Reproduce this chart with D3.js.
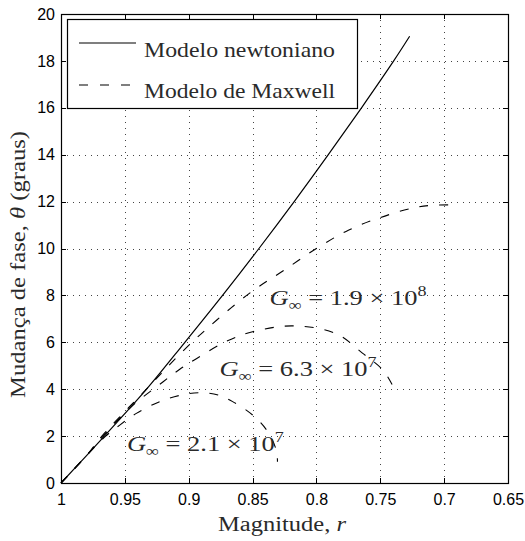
<!DOCTYPE html>
<html><head><meta charset="utf-8">
<script src="https://cdn.jsdelivr.net/npm/d3@7"></script>
<style>body{margin:0;background:#fff}svg{display:block}</style>
</head><body><svg id="c" width="525" height="541"></svg>
<script>
// ---- data ----
const xTickValues = [1, 0.95, 0.9, 0.85, 0.8, 0.75, 0.7, 0.65];
const xTickLabels = ["1", "0.95", "0.9", "0.85", "0.8", "0.75", "0.7", "0.65"];
const yTickValues = [0, 2, 4, 6, 8, 10, 12, 14, 16, 18, 20];
const yTickLabels = ["0", "2", "4", "6", "8", "10", "12", "14", "16", "18", "20"];

const newtonR     = [1, 0.98, 0.966, 0.933, 0.903, 0.8735, 0.845, 0.8174, 0.7907, 0.7647, 0.7395, 0.727];
const newtonTheta = [0, 1.17, 2, 4, 6, 8, 10, 12, 14, 16, 18, 19.05];

const maxA_R     = [1, 0.98, 0.968, 0.934, 0.902, 0.878, 0.851, 0.826, 0.8, 0.775, 0.75, 0.725, 0.71, 0.696];
const maxA_Theta = [0, 1.17, 2, 3.95, 5.76, 6.95, 8.15, 9.05, 10.0, 10.78, 11.32, 11.72, 11.84, 11.86];

const maxB_R     = [1, 0.98, 0.967, 0.945, 0.92, 0.907, 0.894, 0.871, 0.85, 0.8185, 0.785, 0.764, 0.748, 0.7406];
const maxB_Theta = [0, 1.17, 2.0, 3.25, 4.32, 4.85, 5.3, 6.03, 6.45, 6.7, 6.38, 5.54, 4.82, 4.18];

const maxC_R     = [1, 0.98, 0.965, 0.954, 0.941, 0.9227, 0.905, 0.891, 0.877, 0.8656, 0.85, 0.839, 0.8315, 0.8305];
const maxC_Theta = [0, 1.17, 2.0, 2.47, 2.97, 3.47, 3.76, 3.85, 3.75, 3.47, 2.9, 2.26, 1.41, 0.91];

const legendLabels = ["Modelo newtoniano", "Modelo de Maxwell"];
const annoMant = ["1.9", "6.3", "2.1"];
const annoExp  = ["8", "7", "7"];
const annoR     = [0.8367, 0.8758, 0.9484];
const annoTheta = [7.59, 4.56, 1.36];

// ---- layout ----
const svg = d3.select("#c");
const L = 61, R = 508, T = 14, B = 483;
const x = d3.scaleLinear().domain([1, 0.65]).range([L, R]);
const y = d3.scaleLinear().domain([0, 20]).range([B, T]);
const serif = "'Liberation Serif', 'Times New Roman', serif";
const sans = "'Liberation Sans', Arial, sans-serif";

// grid
const grid = svg.append("g").attr("stroke", "#444").attr("stroke-width", 1)
  .attr("stroke-dasharray", "1,5").attr("shape-rendering", "crispEdges");
grid.selectAll(".gx").data(xTickValues.slice(1, -1)).join("line")
  .attr("x1", d => Math.round(x(d)) + 0.5).attr("x2", d => Math.round(x(d)) + 0.5)
  .attr("y1", T).attr("y2", B);
grid.selectAll(".gy").data(yTickValues.slice(1, -1)).join("line")
  .attr("y1", d => Math.round(y(d)) + 0.5).attr("y2", d => Math.round(y(d)) + 0.5)
  .attr("x1", L).attr("x2", R);

// axes
function styleAxis(g) {
  g.select(".domain").remove();
  g.selectAll("line").attr("stroke", "#000").attr("shape-rendering", "crispEdges");
  g.selectAll("text").attr("font-family", sans).attr("font-size", 16).attr("fill", "#000");
}
svg.append("g").attr("transform", `translate(0,${B})`)
  .call(d3.axisBottom(x).tickValues(xTickValues).tickFormat((d, i) => xTickLabels[i]).tickSize(-5).tickPadding(11))
  .call(styleAxis);
svg.append("g").attr("transform", `translate(0,${T})`)
  .call(d3.axisTop(x).tickValues(xTickValues).tickFormat("").tickSize(-5))
  .call(styleAxis);
svg.append("g").attr("transform", `translate(${L},0)`)
  .call(d3.axisLeft(y).tickValues(yTickValues).tickFormat((d, i) => yTickLabels[i]).tickSize(-5).tickPadding(6))
  .call(styleAxis);
svg.append("g").attr("transform", `translate(${R},0)`)
  .call(d3.axisRight(y).tickValues(yTickValues).tickFormat("").tickSize(-5))
  .call(styleAxis);

svg.append("rect").attr("x", L + 0.5).attr("y", T + 0.5).attr("width", R - L).attr("height", B - T)
  .attr("fill", "none").attr("stroke", "#000").attr("stroke-width", 1.2);

// curves
const line = d3.line().x(d => x(d[0])).y(d => y(d[1])).curve(d3.curveCatmullRom.alpha(0.5));
const zip = (a, b) => a.map((v, i) => [v, b[i]]);
const curves = svg.append("g").attr("fill", "none").attr("stroke", "#000");
curves.append("path").attr("d", line(zip(newtonR, newtonTheta))).attr("stroke-width", 1.2);
[[maxA_R, maxA_Theta], [maxB_R, maxB_Theta], [maxC_R, maxC_Theta]].forEach(([r, t]) => {
  curves.append("path").attr("d", line(zip(r, t))).attr("stroke-width", 1.1).attr("stroke-dasharray", "9,11");
});

// annotations
annoMant.forEach((m, i) => {
  const t = svg.append("text").attr("x", x(annoR[i])).attr("y", y(annoTheta[i]))
    .attr("font-family", serif).attr("font-size", 22).attr("fill", "#2a2a2a");
  t.append("tspan").attr("font-style", "italic").text("G");
  t.append("tspan").attr("font-size", 15).attr("dy", 5).text("\u221E");
  t.append("tspan").attr("dy", -5).text(" = " + m + " \u00D7 10");
  t.append("tspan").attr("font-size", 15).attr("dy", -9).text(annoExp[i]);
  t.attr("textLength", 157).attr("lengthAdjust", "spacingAndGlyphs");
});

// legend
const lg = svg.append("g");
lg.append("rect").attr("x", 67.5).attr("y", 19.5).attr("width", 290).attr("height", 89)
  .attr("fill", "#fff").attr("stroke", "#000").attr("stroke-width", 1.2);
lg.append("line").attr("x1", 79).attr("x2", 136).attr("y1", 43).attr("y2", 43)
  .attr("stroke", "#000").attr("stroke-width", 1.2);
lg.append("line").attr("x1", 79).attr("x2", 136).attr("y1", 85).attr("y2", 85)
  .attr("stroke", "#000").attr("stroke-width", 1.1).attr("stroke-dasharray", "9,12");
legendLabels.forEach((s, i) => {
  lg.append("text").attr("x", 144).attr("y", i === 0 ? 57 : 98)
    .attr("font-family", serif).attr("font-size", 21).attr("fill", "#2a2a2a")
    .attr("textLength", 191).attr("lengthAdjust", "spacingAndGlyphs").text(s);
});

// axis labels
const xl = svg.append("text").attr("x", 218).attr("y", 531)
  .attr("font-family", serif).attr("font-size", 20).attr("fill", "#2a2a2a");
xl.append("tspan").text("Magnitude, ");
xl.append("tspan").attr("font-style", "italic").text("r");
xl.attr("textLength", 128).attr("lengthAdjust", "spacingAndGlyphs");

const yl = svg.append("text").attr("transform", "translate(25,398) rotate(-90)")
  .attr("x", 0).attr("y", 0)
  .attr("font-family", serif).attr("font-size", 20).attr("fill", "#2a2a2a");
yl.append("tspan").text("Mudan\u00E7a de fase, ");
yl.append("tspan").attr("font-style", "italic").text("\u03B8");
yl.append("tspan").text(" (graus)");
yl.attr("textLength", 267).attr("lengthAdjust", "spacingAndGlyphs");
</script></body></html>
